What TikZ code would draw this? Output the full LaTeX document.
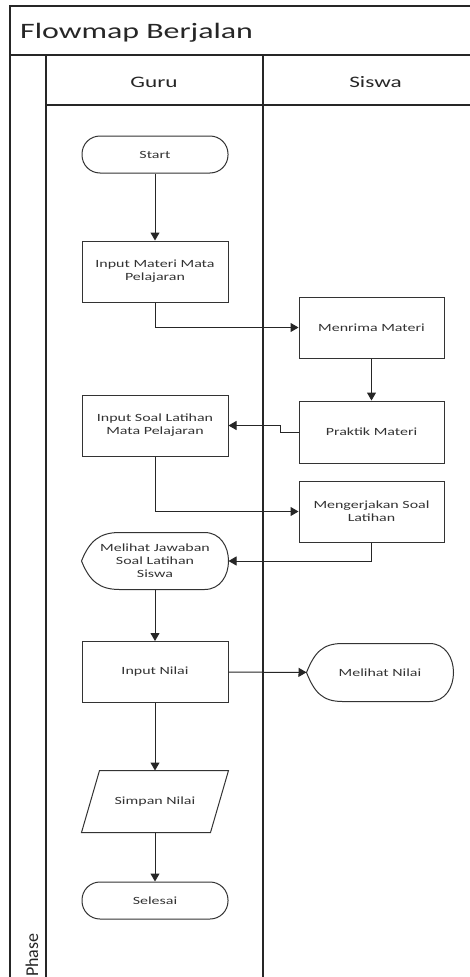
\documentclass[tikz,border=0pt]{standalone}
\usepackage{fontspec}
\setmainfont{Carlito}[FakeStretch=1.45]
\newfontfamily\phasefont{Carlito}
\usepackage{tikz}
\usetikzlibrary{arrows.meta,calc}

\tikzset{
  lane/.style={draw=black!85,line width=1.2pt},
  box/.style={draw=black!80,line width=1pt,minimum width=146pt,minimum height=61pt,inner sep=0pt,
    align=center,text=black!80,font=\fontsize{11}{13}\selectfont},
  terminal/.style={box,minimum height=37pt,rounded corners=18pt},
  shapeonly/.style={box,draw=none},
  flow/.style={draw=black!85,line width=1pt,-{Triangle[length=8pt,width=9pt]}}
}

\begin{document}
\begin{tikzpicture}[x=1pt,y=-1pt]
\useasboundingbox (0,0) rectangle (470,977);
\fill[white] (0,0) rectangle (470,977);
% pool and lanes
\draw[lane] (470,6) -- (10,6) -- (10,977);
\draw[lane] (10,55) -- (470,55);
\draw[lane] (46,55) -- (46,977);
\draw[lane] (46,105) -- (470,105);
\draw[lane] (263,55) -- (263,977);
\node[anchor=base west,font=\fontsize{22}{26}\selectfont,text=black!85,inner sep=0pt] (judul) at (20,38) {Flowmap Berjalan};
\node[font=\fontsize{16}{19}\selectfont,text=black!85] (guru) at (154,82) {Guru};
\node[font=\fontsize{16}{19}\selectfont,text=black!85] (siswa) at (375.5,82) {Siswa};
\node[rotate=90,anchor=base west,font=\phasefont\fontsize{18}{21}\selectfont,text=black!85,inner sep=0pt] (phase) at (38,977) {Phase};
% guru
\node[terminal] (start) at (155,154.5) {Start};
\node[box] (inmateri) at (155,271.5) {Input Materi Mata\\Pelajaran};
\node[box] (insoal) at (155,425.5) {Input Soal Latihan\\Mata Pelajaran};
\node[shapeonly,minimum height=56pt] (jawaban) at (155,561) {Melihat Jawaban\\Soal Latihan\\Siswa};
\node[box] (innilai) at (155,672) {Input Nilai};
\node[shapeonly] (simpan) at (155,801.5) {Simpan Nilai};
\node[terminal] (selesai) at (155,900.5) {Selesai};
% siswa
\node[box,minimum width=145pt] (terima) at (371.5,327.5) {Menrima Materi};
\node[box,minimum width=145pt,minimum height=62pt] (praktik) at (371.5,432) {Praktik Materi};
\node[box,minimum width=145pt] (kerjakan) at (371.5,511.5) {Mengerjakan Soal\\Latihan};
\node[shapeonly,minimum width=146pt,minimum height=57pt] (lihatnilai) at (380,672.5) {Melihat Nilai};
% outlines
\draw[draw=black!80,line width=1pt] (jawaban.west) .. controls +(8,-20) and +(-20,0) .. ($(jawaban.north west)+(38,0)$)
  -- ($(jawaban.north east)+(-24,0)$) .. controls +(32,0) and +(32,0) .. ($(jawaban.south east)+(-24,0)$)
  -- ($(jawaban.south west)+(38,0)$) .. controls +(-20,0) and +(8,20) .. (jawaban.west);
\draw[draw=black!80,line width=1pt] (lihatnilai.west) .. controls +(8,-20) and +(-20,0) .. ($(lihatnilai.north west)+(36,0)$)
  -- ($(lihatnilai.north east)+(-24,0)$) .. controls +(32,0) and +(32,0) .. ($(lihatnilai.south east)+(-24,0)$)
  -- ($(lihatnilai.south west)+(36,0)$) .. controls +(-20,0) and +(8,20) .. (lihatnilai.west);
\draw[draw=black!80,line width=1pt] ($(simpan.north west)+(18,0)$) -- (simpan.north east)
  -- ($(simpan.south east)+(-18,0)$) -- (simpan.south west) -- cycle;
% arrows
\draw[flow] (start) -- (inmateri);
\draw[flow] (inmateri.south) |- (terima.west);
\draw[flow] (terima) -- (praktik);
\draw[flow] (praktik.west) -- ++(-18,0) |- (insoal.east);
\draw[flow] (insoal.south) |- (kerjakan.west);
\draw[flow] (kerjakan.south) |- (jawaban.east);
\draw[flow] (jawaban) -- (innilai);
\draw[flow] (innilai) -- (lihatnilai);
\draw[flow] (innilai) -- (simpan);
\draw[flow] (simpan) -- (selesai);
\end{tikzpicture}
\end{document}
